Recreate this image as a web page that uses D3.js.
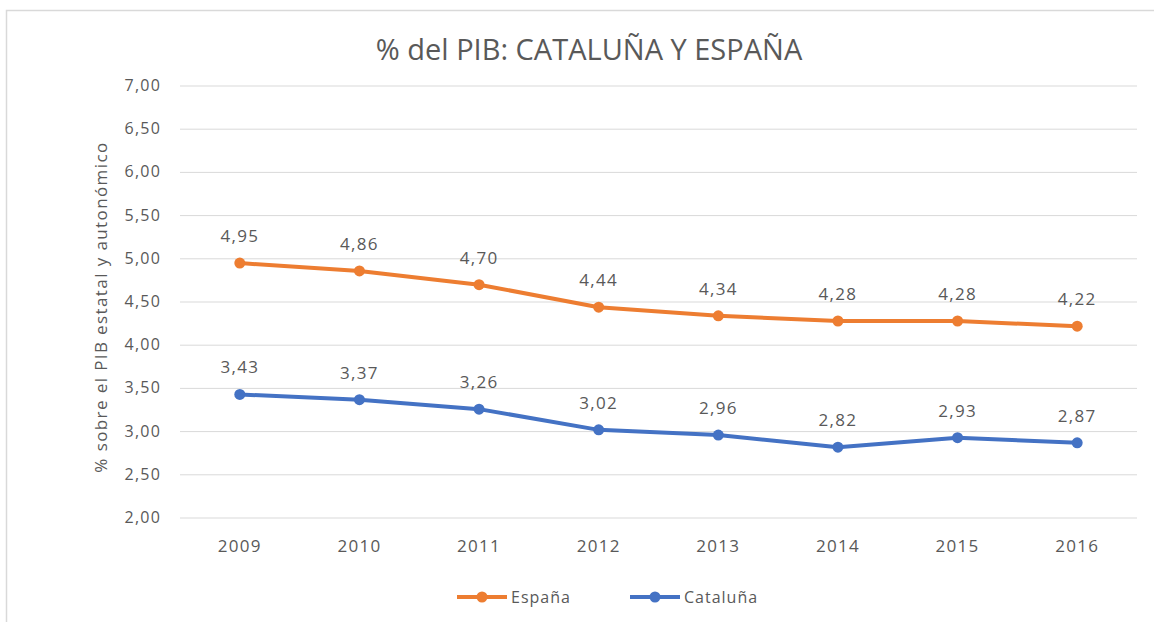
<!DOCTYPE html>
<html>
<head>
<meta charset="utf-8">
<script src="https://cdn.jsdelivr.net/npm/d3@7"></script>
<style>
  body { margin: 0; background: #fff; overflow: hidden; }
  text { font-family: "Open Sans", "Noto Sans", sans-serif; }
</style>
</head>
<body>
<svg id="chart"></svg>
<script>
const years = ["2009", "2010", "2011", "2012", "2013", "2014", "2015", "2016"];
const espana = [4.95, 4.86, 4.70, 4.44, 4.34, 4.28, 4.28, 4.22];
const cataluna = [3.43, 3.37, 3.26, 3.02, 2.96, 2.82, 2.93, 2.87];
const yTicks = [2, 2.5, 3, 3.5, 4, 4.5, 5, 5.5, 6, 6.5, 7];

const width = 1154, height = 622;
const textColor = "#595959";
const fmt = v => d3.format(".2f")(v).replace(".", ",");

const svg = d3.select("#chart").attr("width", width).attr("height", height)
  .style("display", "block");

// chart frame (right and bottom edges fall outside the picture)
svg.append("rect")
  .attr("x", 6.5).attr("y", 10.5)
  .attr("width", 1160).attr("height", 630)
  .attr("fill", "#fff")
  .attr("stroke", "#d9d9d9")
  .attr("stroke-width", 1.5);

const x = d3.scalePoint().domain(years).range([180, 1137]).padding(0.5);
const y = d3.scaleLinear().domain([2, 7]).range([518, 86]);

// gridlines
svg.append("g").selectAll("line")
  .data(yTicks)
  .enter().append("line")
  .attr("x1", 180).attr("x2", 1137)
  .attr("y1", d => y(d)).attr("y2", d => y(d))
  .attr("stroke", "#d9d9d9")
  .attr("stroke-width", 1);

// y tick labels
svg.append("g").selectAll("text")
  .data(yTicks)
  .enter().append("text")
  .attr("x", 161)
  .attr("y", d => y(d) + 5)
  .attr("text-anchor", "end")
  .attr("fill", textColor)
  .style("font-size", "16px")
  .style("letter-spacing", "1.2px")
  .text(fmt);

// x labels
svg.append("g").selectAll("text")
  .data(years)
  .enter().append("text")
  .attr("x", d => x(d))
  .attr("y", 552)
  .attr("text-anchor", "middle")
  .attr("fill", textColor)
  .style("font-size", "17px")
  .style("letter-spacing", "1.3px")
  .text(d => d);

// title
svg.append("text")
  .attr("x", 589).attr("y", 60)
  .attr("text-anchor", "middle")
  .attr("fill", textColor)
  .style("font-size", "29px")
  .text("% del PIB: CATALUÑA Y ESPAÑA");

// y axis title
svg.append("text")
  .attr("transform", "translate(107,307) rotate(-90)")
  .attr("text-anchor", "middle")
  .attr("fill", textColor)
  .style("font-size", "17px")
  .style("letter-spacing", "1.4px")
  .text("% sobre el PIB estatal y autonómico");

const series = [
  { name: "España", values: espana, color: "#ED7D31" },
  { name: "Cataluña", values: cataluna, color: "#4472C4" }
];

const line = d3.line()
  .x((d, i) => x(years[i]))
  .y(d => y(d));

series.forEach(s => {
  const g = svg.append("g");
  g.append("path")
    .datum(s.values)
    .attr("d", line)
    .attr("fill", "none")
    .attr("stroke", s.color)
    .attr("stroke-width", 4)
    .attr("stroke-linejoin", "round")
    .attr("stroke-linecap", "round");
  g.selectAll("circle")
    .data(s.values)
    .enter().append("circle")
    .attr("cx", (d, i) => x(years[i]))
    .attr("cy", d => y(d))
    .attr("r", 5.5)
    .attr("fill", s.color);
  g.selectAll("text")
    .data(s.values)
    .enter().append("text")
    .attr("x", (d, i) => x(years[i]))
    .attr("y", d => y(d) - 21)
    .attr("text-anchor", "middle")
    .attr("fill", textColor)
    .style("font-size", "17px")
    .style("letter-spacing", "1.3px")
    .text(fmt);
});

// legend
const legendX = [457, 630];
series.forEach((s, i) => {
  const lg = svg.append("g").attr("transform", `translate(${legendX[i]},597)`);
  lg.append("line")
    .attr("x1", 0).attr("x2", 50)
    .attr("stroke", s.color).attr("stroke-width", 4);
  lg.append("circle")
    .attr("cx", 25).attr("r", 5.5)
    .attr("fill", s.color);
  lg.append("text")
    .attr("x", 54).attr("y", 6)
    .attr("fill", textColor)
    .style("font-size", "16px")
    .style("letter-spacing", "1px")
    .text(s.name);
});
</script>
</body>
</html>
